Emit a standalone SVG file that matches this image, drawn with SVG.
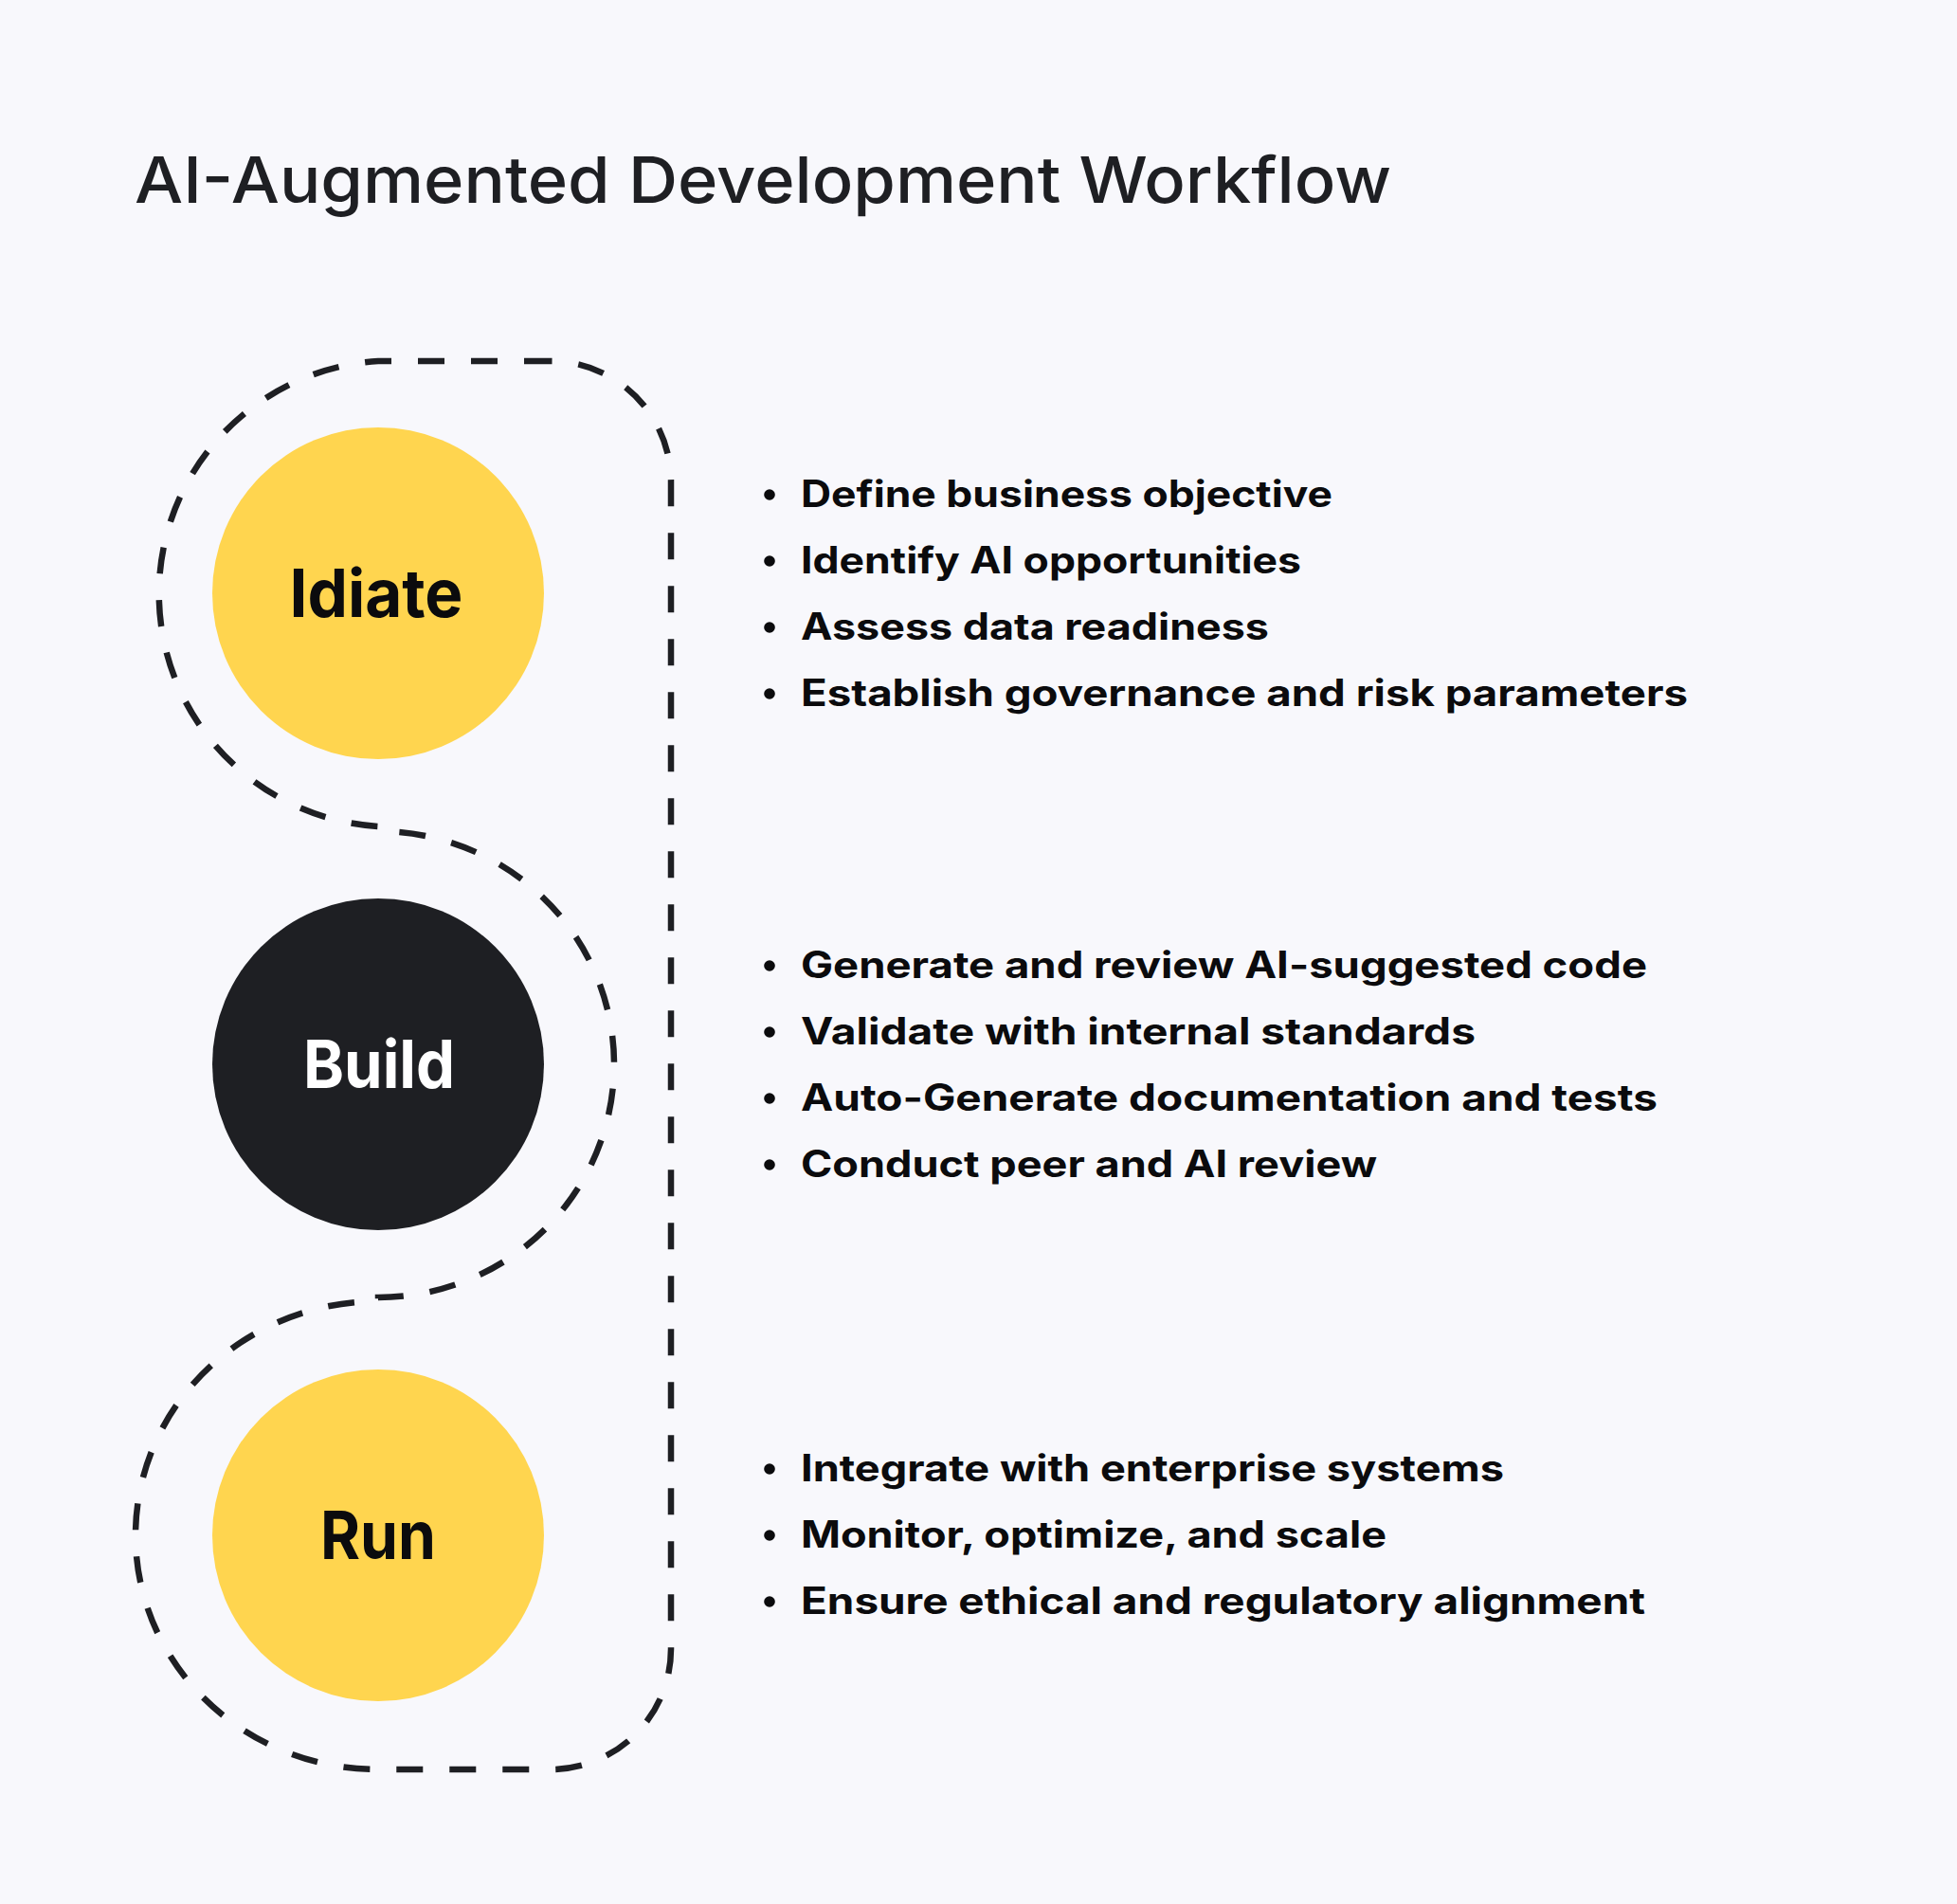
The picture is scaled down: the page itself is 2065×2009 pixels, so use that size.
<svg xmlns="http://www.w3.org/2000/svg" width="2065" height="2009" viewBox="0 0 2065 2009">
<style>
.title{font-family:Inter,"Liberation Sans",sans-serif;font-weight:500;font-size:68px;fill:#1E1F23}
.lbl{font-family:Inter,"Liberation Sans",sans-serif;font-weight:700;font-size:70px;text-anchor:middle}
.item{font-family:Inter,"Liberation Sans",sans-serif;font-weight:700;font-size:39px;fill:#0B0B0D}
.dot{fill:#0B0B0D}
.flow{fill:none;stroke:#1E1F23;stroke-width:6.5;stroke-dasharray:28 28}
.yel{fill:#FFD54F}
.drk{fill:#1E1F23}
</style>
<rect width="2065" height="2009" fill="#F8F8FC"/>
<text class="title" x="142" y="214" textLength="1326" lengthAdjust="spacingAndGlyphs">AI-Augmented Development Workflow</text>
<g id="connectors">
<path class="flow" d="M581,381 L399,381 A247,246 0 0 0 399,872 L399,877 A249,246 0 0 1 399,1369 L399,1373 A256,247 0 0 0 399,1867 L581,1867 A127,127 0 0 0 708,1740 L708,508 A127,127 0 0 0 581,381 Z"/>
</g>
<g id="idiate">
<circle class="yel" cx="399" cy="626" r="175"/>
<text class="lbl" x="397" y="651" fill="#0B0B0D" textLength="183" lengthAdjust="spacingAndGlyphs">Idiate</text>
</g>
<g id="build">
<circle class="drk" cx="399" cy="1123" r="175"/>
<text class="lbl" x="400" y="1148" fill="#FFFFFF" textLength="160" lengthAdjust="spacingAndGlyphs">Build</text>
</g>
<g id="run">
<circle class="yel" cx="399" cy="1620" r="175"/>
<text class="lbl" x="399" y="1645" fill="#0B0B0D" textLength="122" lengthAdjust="spacingAndGlyphs">Run</text>
</g>
<g id="idiate-tasks">
<circle class="dot" cx="812" cy="522" r="5.8"/>
<text class="item" x="845" y="535" textLength="561" lengthAdjust="spacingAndGlyphs">Define business objective</text>
<circle class="dot" cx="812" cy="592" r="5.8"/>
<text class="item" x="845" y="605" textLength="528" lengthAdjust="spacingAndGlyphs">Identify AI opportunities</text>
<circle class="dot" cx="812" cy="662" r="5.8"/>
<text class="item" x="845" y="675" textLength="494" lengthAdjust="spacingAndGlyphs">Assess data readiness</text>
<circle class="dot" cx="812" cy="732" r="5.8"/>
<text class="item" x="845" y="745" textLength="936" lengthAdjust="spacingAndGlyphs">Establish governance and risk parameters</text>
</g>
<g id="build-tasks">
<circle class="dot" cx="812" cy="1019" r="5.8"/>
<text class="item" x="845" y="1032" textLength="893" lengthAdjust="spacingAndGlyphs">Generate and review AI-suggested code</text>
<circle class="dot" cx="812" cy="1089" r="5.8"/>
<text class="item" x="845" y="1102" textLength="712" lengthAdjust="spacingAndGlyphs">Validate with internal standards</text>
<circle class="dot" cx="812" cy="1159" r="5.8"/>
<text class="item" x="845" y="1172" textLength="904" lengthAdjust="spacingAndGlyphs">Auto-Generate documentation and tests</text>
<circle class="dot" cx="812" cy="1229" r="5.8"/>
<text class="item" x="845" y="1242" textLength="608" lengthAdjust="spacingAndGlyphs">Conduct peer and AI review</text>
</g>
<g id="run-tasks">
<circle class="dot" cx="812" cy="1550" r="5.8"/>
<text class="item" x="845" y="1563" textLength="742" lengthAdjust="spacingAndGlyphs">Integrate with enterprise systems</text>
<circle class="dot" cx="812" cy="1620" r="5.8"/>
<text class="item" x="845" y="1633" textLength="618" lengthAdjust="spacingAndGlyphs">Monitor, optimize, and scale</text>
<circle class="dot" cx="812" cy="1690" r="5.8"/>
<text class="item" x="845" y="1703" textLength="891" lengthAdjust="spacingAndGlyphs">Ensure ethical and regulatory alignment</text>
</g>
</svg>
